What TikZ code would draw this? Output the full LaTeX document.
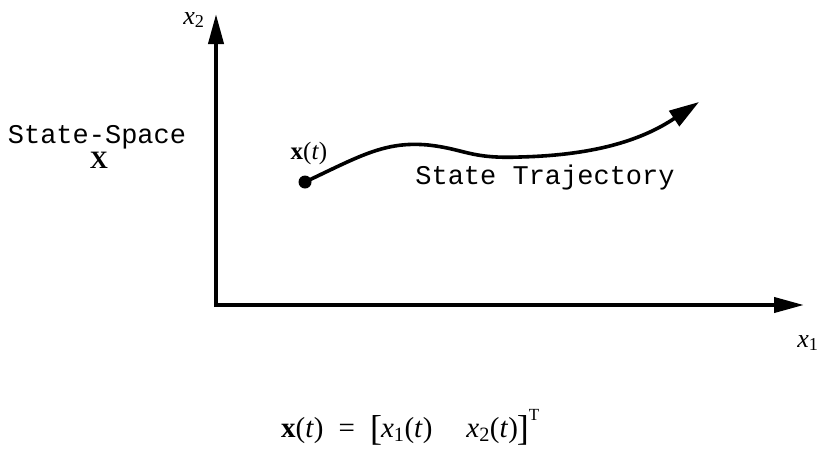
\documentclass[tikz,border=0pt]{standalone}
\usepackage{fontspec}
\setmainfont{Liberation Serif}
\newfontfamily\monofont{Liberation Mono}
\usetikzlibrary{arrows.meta}
\newcommand{\bigbr}[1]{\raisebox{-3pt}{\fontsize{36}{36}\selectfont #1}}
\begin{document}
\begin{tikzpicture}[x=1pt,y=-1pt,
  axis/.style={line width=4pt,-{Triangle[length=30pt,width=15pt]}},
  traj/.style={line width=3.6pt,-{Triangle[length=30pt,width=18pt]}},
  mono/.style={font=\monofont\fontsize{27}{30}\selectfont,inner sep=0pt},
  serif/.style={font=\fontsize{24}{28}\selectfont,inner sep=0pt},
  dotstyle/.style={circle,fill=black,minimum size=13pt,inner sep=0pt}]
\useasboundingbox (0,0) rectangle (818,450);
\coordinate (o) at (216,305);
\coordinate (ytip) at (216,14);
\coordinate (xtip) at (804,305);
\draw[axis] ([yshift=-2pt]o) -- (ytip);
\draw[axis] ([xshift=-2pt]o) -- (xtip);
\node[serif,font=\fontsize{26}{28}\selectfont] (x2) at (194,20) {\textit{x}\textsubscript{2}};
\node[serif,font=\fontsize{26}{28}\selectfont] (x1) at (808,343) {\textit{x}\textsubscript{1}};
\node[mono] (ss) at (97,137) {State-Space};
\node[serif,font=\bfseries\fontsize{25}{28}\selectfont] (X) at (99,160) {X};
\node[dotstyle] (start) at (305,182) {};
\coordinate (end) at (699,102);
\node[serif,font=\fontsize{25}{28}\selectfont] (xt) at (309,153) {\textbf{x}(\textit{t})};
\node[mono] (st) at (545,178) {State Trajectory};
\draw[traj] (start.center) .. controls (360,156) and (385,141) .. (428,145)
  .. controls (465,149) and (470,159) .. (520,157)
  .. controls (600,155) and (645,138) .. (end);
\node[serif,font=\fontsize{29}{32}\selectfont,anchor=base west] (eq) at (281,437) {\textbf{x}(\textit{t})\hspace{15pt}=\hspace{15pt}\bigbr{[}\kern-1pt\textit{x}\textsubscript{1}(\textit{t})\hspace{34pt}\textit{x}\textsubscript{2}(\textit{t})\kern-1pt\bigbr{]}\raisebox{17pt}{\fontsize{17}{18}\selectfont T}};
\end{tikzpicture}
\end{document}
